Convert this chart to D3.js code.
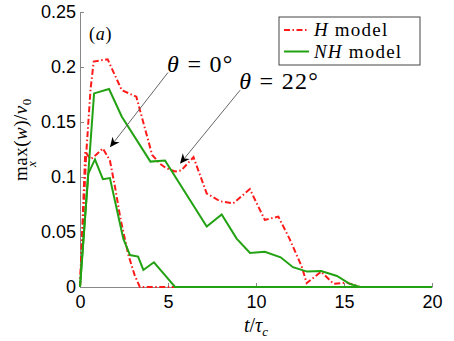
<!DOCTYPE html>
<html>
<head>
<meta charset="utf-8">
<script src="https://cdn.jsdelivr.net/npm/d3@7"></script>
<style>
  body { margin: 0; background: #fff; }
  .tick text { font-family: "Liberation Sans", Arial, sans-serif; font-size: 18px; fill: #000; }
  .math { font-family: "Liberation Serif", "DejaVu Serif", serif; fill: #000; }
</style>
</head>
<body>
<svg id="chart" width="454" height="341"></svg>
<script>
// time axis t / tau_c
var tTicks = [0, 5, 10, 15, 20];
var vTicks = [0, 0.05, 0.1, 0.15, 0.2, 0.25];

// H model, theta = 22 deg
var h22T = [0, 0.35, 0.6, 0.78, 1.57, 2.37, 3.2, 4.1, 4.55, 4.9, 5.4, 5.75, 6.45, 7.2, 7.95, 8.7, 9.65, 10.5, 11.27, 11.9, 12.6, 12.88, 13.7, 14.4, 15.15, 15.9, 20];
var h22V = [0, 0.12, 0.18, 0.205, 0.207, 0.179, 0.173, 0.12, 0.112, 0.108, 0.105, 0.106, 0.118, 0.085, 0.078, 0.076, 0.089, 0.061, 0.064, 0.044, 0.0185, 0.0035, 0.014, 0.003, 0.004, 0, 0];

// H model, theta = 0 deg
var h0T = [0, 0.3, 0.6, 0.9, 1.3, 1.7, 2.0, 2.3, 2.75, 3.1, 3.4, 20];
var h0V = [0, 0.123, 0.116, 0.12, 0.126, 0.115, 0.09, 0.062, 0.029, 0.011, 0, 0];

// NH model, theta = 22 deg
var nh22T = [0, 0.8, 1.65, 2.37, 4.0, 4.83, 7.2, 8.05, 8.9, 9.66, 10.5, 11.4, 12.1, 12.9, 13.7, 14.6, 15.3, 15.9, 20];
var nh22V = [0, 0.176, 0.18, 0.155, 0.114, 0.115, 0.055, 0.066, 0.044, 0.031, 0.032, 0.027, 0.018, 0.014, 0.0145, 0.01, 0.003, 0, 0];

// NH model, theta = 0 deg
var nh0T = [0, 0.47, 0.85, 1.3, 1.7, 2.46, 2.84, 3.3, 3.6, 4.2, 4.9, 5.4, 20];
var nh0V = [0, 0.103, 0.116, 0.098, 0.099, 0.044, 0.029, 0.0276, 0.0155, 0.0225, 0.0094, 0, 0];

// annotation arrows (tail -> tip) in data units
var arrowLabels = ["0", "22"];
var arrowTail = [[5.0, 0.195], [9.1, 0.179]];
var arrowTip = [[1.7, 0.127], [5.68, 0.112]];

var svg = d3.select("#chart"),
    margin = {top: 12, right: 22, bottom: 54, left: 80},
    width = 454 - margin.left - margin.right,
    height = 341 - margin.top - margin.bottom,
    g = svg.append("g").attr("transform", "translate(" + margin.left + "," + margin.top + ")");

var x = d3.scaleLinear().domain([0, 20]).range([0, width]),
    y = d3.scaleLinear().domain([0, 0.25]).range([height, 0]);

var fmt = function(d) { return d === 0 ? "0" : String(d); };

//axes, ticks pointing inward like matlab
var xAxis = g.append("g")
    .attr("transform", "translate(0," + height + ")")
    .call(d3.axisBottom(x).tickValues(tTicks).tickFormat(fmt).tickSizeInner(-4).tickSizeOuter(0).tickPadding(8));
var yAxis = g.append("g")
    .call(d3.axisLeft(y).tickValues(vTicks).tickFormat(fmt).tickSizeInner(-4).tickSizeOuter(0).tickPadding(4));
[xAxis, yAxis].forEach(function(a) {
  a.select(".domain").attr("stroke", "#888");
  a.selectAll(".tick line").attr("stroke", "#888");
});

var line = d3.line()
    .x(function(d) { return x(d[0]); })
    .y(function(d) { return y(d[1]); });

var dashH = "6,2.5,1.5,2.5";
var series = [
  {t: h0T, v: h0V, color: "#ff1a1a", dash: dashH},
  {t: h22T, v: h22V, color: "#ff1a1a", dash: dashH},
  {t: nh0T, v: nh0V, color: "#22a212", dash: null},
  {t: nh22T, v: nh22V, color: "#22a212", dash: null}
];

g.selectAll(".curve")
    .data(series)
    .enter().append("path")
    .attr("class", "curve")
    .attr("fill", "none")
    .attr("stroke-width", 2)
    .attr("stroke", function(d) { return d.color; })
    .attr("stroke-dasharray", function(d) { return d.dash; })
    .attr("d", function(d) { return line(d.t.map(function(tt, i) { return [tt, d.v[i]]; })); });

//arrows with matlab style head
arrowLabels.forEach(function(lab, i) {
  var x0 = x(arrowTail[i][0]), y0 = y(arrowTail[i][1]),
      x1 = x(arrowTip[i][0]), y1 = y(arrowTip[i][1]);
  var ang = Math.atan2(y1 - y0, x1 - x0);
  var L = 10, W = 4.5, back = 7;
  var bx = x1 - L * Math.cos(ang), by = y1 - L * Math.sin(ang);
  var nx = -Math.sin(ang), ny = Math.cos(ang);
  var mx = x1 - back * Math.cos(ang), my = y1 - back * Math.sin(ang);
  g.append("line")
      .attr("x1", x0).attr("y1", y0).attr("x2", mx).attr("y2", my)
      .attr("stroke", "#555").attr("stroke-width", 0.9);
  g.append("path")
      .attr("d", "M" + x1 + "," + y1 + "L" + (bx + nx * W) + "," + (by + ny * W) +
                 "L" + mx + "," + my + "L" + (bx - nx * W) + "," + (by - ny * W) + "Z")
      .attr("fill", "#000");
  var txt = g.append("text")
      .attr("class", "math")
      .attr("x", x0 - 1)
      .attr("y", y0 - 1)
      .attr("font-size", 24)
      .attr("letter-spacing", 1.3);
  txt.append("tspan").attr("font-style", "italic").text("θ");
  txt.append("tspan").text(" = " + lab + "°");
});

// panel letter
var pa = g.append("text").attr("class", "math").attr("x", 9).attr("y", 28)
    .attr("font-size", 18).attr("letter-spacing", 0.8);
pa.append("tspan").text("(");
pa.append("tspan").attr("font-style", "italic").text("a");
pa.append("tspan").text(")");

// legend
var leg = g.append("g").attr("transform", "translate(" + (width - 153) + ",5)");
leg.append("rect").attr("width", 141).attr("height", 48)
    .attr("fill", "#fff").attr("stroke", "#444").attr("stroke-width", 1);
var legItems = [
  {name: "H", color: "#ff1a1a", dash: dashH},
  {name: "NH", color: "#22a212", dash: null}
];
legItems.forEach(function(it, i) {
  var yy = 13 + i * 21.5;
  leg.append("line").attr("x1", 5).attr("x2", 30).attr("y1", yy).attr("y2", yy)
      .attr("stroke", it.color).attr("stroke-width", 2).attr("stroke-dasharray", it.dash);
  var t = leg.append("text").attr("class", "math").attr("x", 35).attr("y", yy + 6)
      .attr("font-size", 19).attr("letter-spacing", 1.2);
  t.append("tspan").attr("font-style", "italic").text(it.name);
  t.append("tspan").text(" model");
});

// x label
var xl = svg.append("text").attr("class", "math")
    .attr("x", margin.left + width / 2).attr("y", 332)
    .attr("text-anchor", "middle").attr("font-size", 20);
xl.append("tspan").attr("font-style", "italic").text("t");
xl.append("tspan").text("/");
xl.append("tspan").attr("font-style", "italic").text("τ");
xl.append("tspan").attr("font-style", "italic").attr("font-size", 13).attr("dy", 4).text("c");

// y label, rotated
var yl = svg.append("g").attr("transform", "translate(27,181) rotate(-90)");
var yt = yl.append("text").attr("class", "math").attr("x", 0).attr("y", 0)
    .attr("font-size", 19).attr("letter-spacing", 0.5);
yt.append("tspan").text("max(");
yt.append("tspan").attr("font-style", "italic").text("w");
yt.append("tspan").text(")/");
yt.append("tspan").attr("font-style", "italic").text("v");
yt.append("tspan").attr("font-size", 13).attr("dy", 4).text("0");
yl.append("text").attr("class", "math").attr("x", 17).attr("y", 9)
    .attr("font-size", 13).attr("font-style", "italic").attr("text-anchor", "middle").text("x");
</script>
</body>
</html>
